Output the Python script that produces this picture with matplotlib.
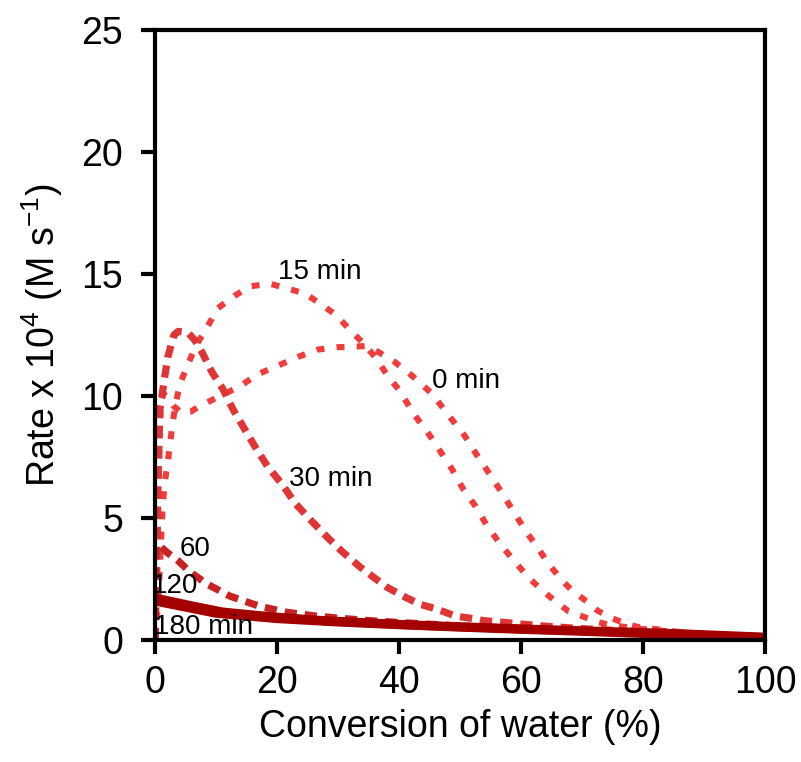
import matplotlib
matplotlib.use("Agg")
import matplotlib.pyplot as plt

plt.rcParams['font.family'] = ['Liberation Sans', 'DejaVu Sans']
plt.rcParams['mathtext.fontset'] = 'custom'
plt.rcParams['mathtext.rm'] = 'Liberation Sans'
plt.rcParams['mathtext.default'] = 'regular'

# ---- data ----
x_0 = [0, 0.2, 0.4, 0.6, 0.8, 1.0, 1.4, 2.0, 3.0, 4.4, 5.8, 7.4, 10.7, 13.9, 16.9, 20.2, 23.4,
       26.6, 29.8, 33.1, 34.4, 36.0, 39.3, 42.3, 45.4, 48.0, 50.7, 52.6, 54.6, 56.7, 58.7, 60.7,
       62.8, 64.9, 66.9, 68.5, 70.7, 72.6, 74.9, 77.4, 79.0, 82, 86, 90, 95, 100]
y_0 = [0, 1.5, 4.0, 6.5, 8.8, 9.8, 10.1, 9.95, 9.6, 9.3, 9.35, 9.6, 10.0, 10.4, 10.9, 11.25, 11.6,
       11.9, 12.0, 12.03, 12.05, 11.9, 11.4, 10.8, 10.1, 9.25, 8.4, 7.65, 6.9, 6.1, 5.3, 4.5,
       3.76, 3.0, 2.4, 2.0, 1.6, 1.2, 0.9, 0.65, 0.55, 0.45, 0.33, 0.25, 0.17, 0.1]

x_15 = [0, 0.5, 0.8, 1.1, 1.3, 1.6, 2.1, 2.5, 2.9, 3.4, 4.1, 5.4, 6.8, 8.5, 10.3, 13.0, 15.6, 18.9,
        21.8, 24.6, 27.0, 29.8, 32.0, 34.4, 36.4, 38.2, 40.2, 42.3, 44.6, 46.6, 48.7, 50.5, 52.5,
        54.4, 56.7, 58.7, 61.1, 63.4, 65.6, 67.7, 70.0, 72.5, 75.0, 80, 85, 90, 95, 100]
y_15 = [0, 1.5, 3.0, 4.7, 5.6, 6.45, 7.3, 8.1, 8.9, 9.7, 10.5, 11.3, 12.1, 12.8, 13.6, 14.1, 14.5,
        14.6, 14.4, 14.2, 13.8, 13.3, 12.7, 12.1, 11.5, 10.8, 10.2, 9.3, 8.55, 7.8, 7.0, 6.2, 5.5,
        4.7, 3.9, 3.3, 2.6, 2.05, 1.6, 1.2, 0.98, 0.74, 0.6, 0.45, 0.34, 0.25, 0.17, 0.1]

x_30 = [0, 0.3, 0.5, 0.8, 1.2, 1.6, 2.1, 3.1, 3.8, 5.4, 6.5, 7.7, 9.3, 11.1, 12.8, 14.8, 16.7,
        18.5, 20.8, 23.0, 25.4, 28.7, 30.8, 33.6, 35.7, 38.0, 40.7, 43.4, 46.2, 49.3, 51.6, 53.8,
        57.0, 60.3, 65, 70, 75, 80, 90, 100]
y_30 = [0, 3.0, 6.5, 9.45, 10.1, 10.8, 11.6, 12.5, 12.65, 12.6, 12.3, 11.8, 11.0, 10.3, 9.45, 8.6,
        7.8, 7.1, 6.4, 5.6, 4.95, 4.1, 3.6, 3.0, 2.6, 2.17, 1.8, 1.47, 1.27, 0.98, 0.9, 0.8,
        0.73, 0.65, 0.55, 0.47, 0.4, 0.33, 0.2, 0.1]

x_60 = [0, 0.05, 0.15, 1.0, 2.2, 3.8, 5.7, 8.5, 12.3, 17.2, 21.6, 25.9, 30, 35, 40, 50, 60, 70,
        80, 90, 100]
y_60 = [0, 2.0, 3.9, 3.8, 3.55, 3.25, 2.8, 2.3, 1.8, 1.38, 1.14, 1.0, 0.9, 0.8, 0.72, 0.58, 0.47,
        0.37, 0.28, 0.19, 0.1]

x_120 = [0, 2, 5.7, 11.1, 19.3, 27.5, 38.5, 46, 60, 70, 86, 100]
y_120 = [1.72, 1.62, 1.42, 1.15, 0.95, 0.8, 0.66, 0.58, 0.46, 0.38, 0.26, 0.12]

x_180 = [0, 5, 10, 20, 30, 40, 50, 60, 70, 80, 90, 100]
y_180 = [1.6, 1.35, 1.1, 0.88, 0.74, 0.63, 0.53, 0.44, 0.36, 0.27, 0.19, 0.1]

labels = ["0 min", "15 min", "30 min", "60", "120", "180 min"]
label_x = [45.4, 20.2, 21.9, 4.0, -0.5, -0.1]
label_y = [10.6, 15.1, 6.6, 3.75, 2.2, 0.55]

x_ticks = [0, 20, 40, 60, 80, 100]
y_ticks = [0, 5, 10, 15, 20, 25]

# ---- figure ----
fig = plt.figure(figsize=(8.01, 7.62), dpi=100)
ax = fig.add_axes([0.1935, 0.160, 0.7615, 0.8006])

c_light = '#f23c3c'
c_mid = '#e03535'
c_dark = '#c82222'
c_deep = '#a30000'

ax.plot(x_0, y_0, color=c_light, lw=4.4, dashes=(1.3, 2.0))
ax.plot(x_15, y_15, color=c_light, lw=4.4, dashes=(1.3, 2.0))
ax.plot(x_30, y_30, color=c_mid, lw=5.2, dashes=(1.7, 1.1))
ax.plot(x_60, y_60, color=c_dark, lw=5.2, dashes=(1.7, 1.1))
ax.plot(x_120, y_120, color=c_deep, lw=6.5, solid_capstyle='butt')
ax.plot(x_180, y_180, color=c_deep, lw=6.5, solid_capstyle='butt')

for t, lx, ly in zip(labels, label_x, label_y):
    ax.text(lx, ly, t, fontsize=20, ha='left', va='center', color='black')

ax.set_xlim(0, 100)
ax.set_ylim(0, 25)
ax.set_xticks(x_ticks)
ax.set_yticks(y_ticks)
ax.tick_params(axis='both', which='both', direction='out', length=10, width=3,
               labelsize=27, top=False, right=False)
ax.tick_params(axis='x', pad=8)
ax.tick_params(axis='y', pad=13)
for s in ax.spines.values():
    s.set_linewidth(3)

ax.set_xlabel("Conversion of water (%)", fontsize=27, labelpad=6)
ax.set_ylabel(r"Rate x 10$^{4}$ (M s$^{-1}$)", fontsize=27, labelpad=12)

fig.savefig("out.png", dpi=100)
